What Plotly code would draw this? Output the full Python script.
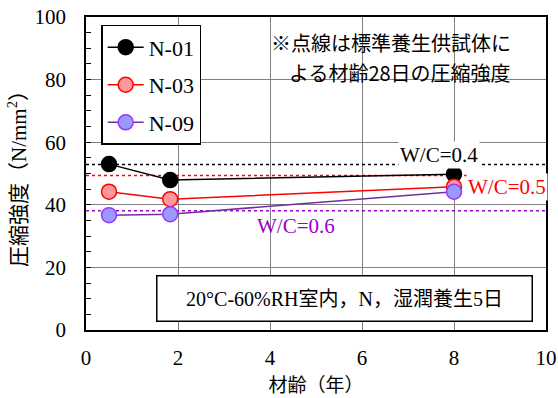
import plotly.graph_objects as go

# Age of specimens (years) and compressive strength (N/mm2)
age_years = [0.5, 1.83, 8.0]
series_names = ["N-01", "N-03", "N-09"]
strength_n01 = [53.0, 47.9, 49.8]
strength_n03 = [44.2, 41.8, 45.8]
strength_n09 = [36.7, 37.0, 44.2]

# 28-day strength of standard-cured specimens, per water-cement ratio
ref_labels = ["W/C=0.4", "W/C=0.5", "W/C=0.6"]
ref_strength = [52.9, 49.4, 38.1]

line_colors = ["#000000", "#FF0000", "#7030A0"]
fill_colors = ["#000000", "#FF9999", "#9999FF"]
outline_colors = ["#000000", "#FF0000", "#9933FF"]
ref_colors = ["#000000", "#FF0000", "#9900CC"]

x_ticks = [0, 2, 4, 6, 8, 10]
y_ticks = [0, 20, 40, 60, 80, 100]

note_lines = ["※点線は標準養生供試体に", "よる材齢28日の圧縮強度"]

SERIF = "Liberation Serif, Times New Roman, serif"
MIXED = "Liberation Serif, Noto Sans CJK JP, serif"
GOTHIC = "Noto Sans CJK JP, sans-serif"

fig = go.Figure()

# dashed reference lines across the whole age range
for val, col in zip(ref_strength, ref_colors):
    fig.add_trace(go.Scatter(
        x=[x_ticks[0], x_ticks[-1]], y=[val, val], mode="lines",
        line=dict(color=col, width=1.5, dash="3px,3px"),
        showlegend=False, hoverinfo="skip"))

for name, vals, lc, fc, oc in zip(series_names,
                                  [strength_n01, strength_n03, strength_n09],
                                  line_colors, fill_colors, outline_colors):
    fig.add_trace(go.Scatter(
        x=age_years, y=vals, mode="lines+markers", name=name,
        legendgroup=name,
        line=dict(color=lc, width=1.5),
        marker=dict(size=15, color=fc, line=dict(color=oc, width=1.5))))

# labels for the dashed lines
label_pos = [(7.67, 55.9), (9.15, 45.7), (4.57, 33.2)]
for (lx, ly), text, col in zip(label_pos, ref_labels, ref_colors):
    fig.add_annotation(x=lx, y=ly, xref="x", yref="y", text=text,
                       showarrow=False, xanchor="center", yanchor="middle",
                       font=dict(family=SERIF, size=21, color=col),
                       bgcolor="white" if text != "W/C=0.6" else "rgba(0,0,0,0)",
                       borderpad=1)

# white backing of the note (hides the grid behind it)
fig.add_shape(type="rect", xref="paper", yref="paper",
              x0=0.378, x1=0.983, y0=0.776, y1=0.968,
              fillcolor="white", line=dict(width=0), layer="between")

# note on the dashed lines, right-aligned, two lines
for text, ny in zip(note_lines, [0.917, 0.824]):
    fig.add_annotation(x=0.928, y=ny, xref="paper", yref="paper",
                       xanchor="right", yanchor="middle", text=text,
                       showarrow=False,
                       font=dict(family=GOTHIC, size=20, color="black"))

# curing condition box
fig.add_annotation(x=0.563, y=0.102, xref="paper", yref="paper",
                   xanchor="center", yanchor="middle",
                   text="20°C-60%RH室内，N，湿潤養生5日",
                   showarrow=False, width=372, height=42,
                   font=dict(family=MIXED, size=20, color="black"),
                   bgcolor="white", bordercolor="black", borderwidth=1.5,
                   borderpad=1)

fig.update_layout(
    width=558, height=398,
    margin=dict(l=86, r=12, t=17, b=68, autoexpand=False),
    paper_bgcolor="white", plot_bgcolor="white",
    showlegend=True,
    legend=dict(x=0.033, y=0.975, xanchor="left", yanchor="top",
                bgcolor="white", bordercolor="black", borderwidth=1.5,
                font=dict(family=SERIF, size=22, color="black"),
                itemwidth=36,
                tracegroupgap=6, traceorder="grouped"),
    font=dict(family=SERIF, color="black"),
)

fig.update_xaxes(
    range=[x_ticks[0], x_ticks[-1]], tickvals=x_ticks,
    showgrid=True, gridcolor="#808080", gridwidth=1,
    showline=True, linecolor="black", linewidth=1.5, mirror=True,
    ticks="", ticklabelstandoff=8, zeroline=False, automargin=False,
    tickfont=dict(family=SERIF, size=21, color="black"),
    title=dict(text="材齢（年）", standoff=10,
               font=dict(family=GOTHIC, size=19, color="black")),
)

fig.update_yaxes(
    range=[y_ticks[0], y_ticks[-1]], tickvals=y_ticks,
    showgrid=True, gridcolor="#808080", gridwidth=1,
    showline=True, linecolor="black", linewidth=1.5, mirror=True,
    ticks="inside", ticklen=5, tickcolor="black", tickwidth=1,
    minor=dict(dtick=5, ticks="inside", ticklen=5, tickcolor="black",
               showgrid=False),
    ticklabelstandoff=14, zeroline=False, automargin=False,
    tickfont=dict(family=SERIF, size=21, color="black"),
    title=dict(text="圧縮強度（N/mm<sup>2</sup>）", standoff=2,
               font=dict(family=MIXED, size=21, color="black")),
)

fig.write_html("out.html")
